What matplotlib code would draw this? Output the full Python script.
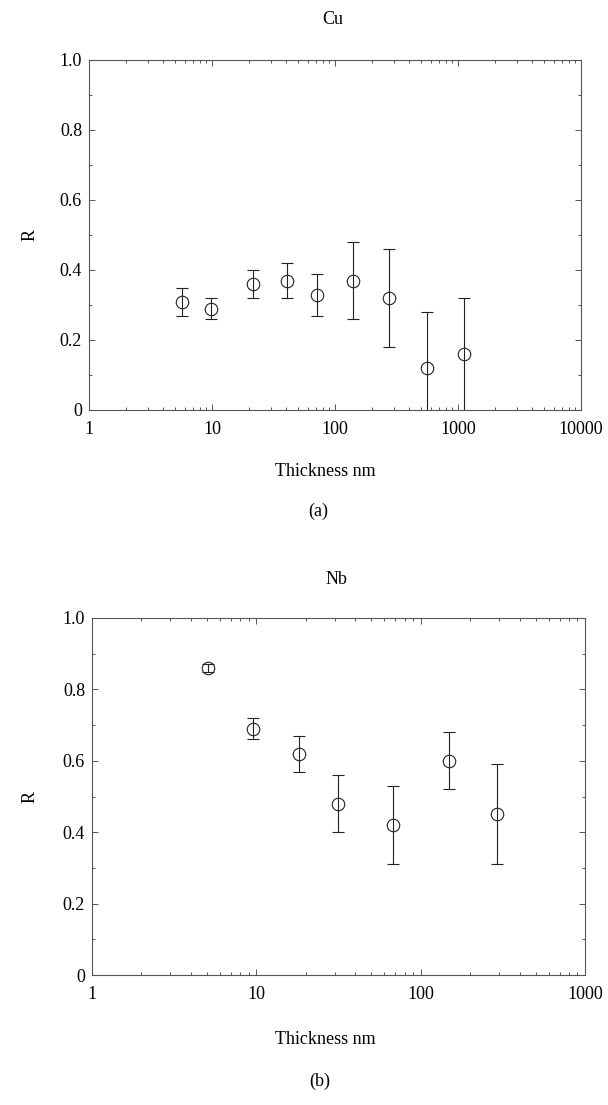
import matplotlib
matplotlib.use("Agg")
import matplotlib.pyplot as plt
import numpy as np
from matplotlib.ticker import FixedLocator, FixedFormatter, LogLocator, NullFormatter, MultipleLocator

plt.rcParams['font.family'] = ['Liberation Serif', 'DejaVu Serif']

# Cu data
cu_thickness = [5.7, 9.9, 21.4, 40.5, 71, 141, 277, 556, 1119]
cu_R = [0.31, 0.29, 0.36, 0.37, 0.33, 0.37, 0.32, 0.12, 0.16]
cu_upper = [0.35, 0.32, 0.40, 0.42, 0.39, 0.48, 0.46, 0.28, 0.32]
cu_lower = [0.27, 0.26, 0.32, 0.32, 0.27, 0.26, 0.18, -0.04, -0.04]

# Nb data
nb_thickness = [5.05, 9.6, 18.3, 31.3, 68, 149, 292]
nb_R = [0.86, 0.69, 0.62, 0.48, 0.42, 0.60, 0.45]
nb_upper = [0.87, 0.72, 0.67, 0.56, 0.53, 0.68, 0.59]
nb_lower = [0.85, 0.66, 0.57, 0.40, 0.31, 0.52, 0.31]

y_ticks = [0, 0.2, 0.4, 0.6, 0.8, 1.0]
y_ticklabels = ['0', '0.2', '0.4', '0.6', '0.8', '1.0']
cu_xticks = [1, 10, 100, 1000, 10000]
cu_xticklabels = ['1', '10', '100', '1000', '10000']
nb_xticks = [1, 10, 100, 1000]
nb_xticklabels = ['1', '10', '100', '1000']

W, H = 608, 1105
fig = plt.figure(figsize=(W / 100, H / 100), dpi=100)

def px_axes(l, t, r, b):
    return [l / W, 1 - b / H, (r - l) / W, (b - t) / H]

ax1 = fig.add_axes(px_axes(89, 60, 581, 410))
ax2 = fig.add_axes(px_axes(92, 618, 585, 975))

spine_color = '#555555'
mark_color = '#222222'
FS = 13

def style(ax, x, y, lo, up, xticks, xlabels, xmax):
    y = np.array(y); lo = np.array(lo); up = np.array(up)
    ax.errorbar(x, y, yerr=[y - lo, up - y], fmt='o', mfc='none', mec=mark_color,
                ms=9, mew=0.8, ecolor=mark_color, elinewidth=0.8, capsize=4.5,
                capthick=0.8, clip_on=True)
    ax.set_xscale('log')
    ax.set_xlim(1, xmax)
    ax.set_ylim(0, 1)
    ax.xaxis.set_major_locator(FixedLocator(xticks))
    ax.xaxis.set_major_formatter(FixedFormatter(xlabels))
    ax.xaxis.set_minor_locator(LogLocator(base=10, subs=np.arange(2, 10), numticks=20))
    ax.xaxis.set_minor_formatter(NullFormatter())
    ax.yaxis.set_major_locator(FixedLocator(y_ticks))
    ax.yaxis.set_major_formatter(FixedFormatter(y_ticklabels))
    ax.yaxis.set_minor_locator(MultipleLocator(0.1))
    ax.tick_params(which='both', direction='in', top=True, right=True,
                   color=spine_color, width=0.7)
    ax.tick_params(which='major', length=4, labelsize=FS)
    ax.tick_params(which='minor', length=2.5)
    ax.tick_params(axis='x', which='major', pad=8)
    ax.tick_params(axis='y', which='major', pad=5)
    for s in ax.spines.values():
        s.set_color(spine_color)
        s.set_linewidth(0.8)

style(ax1, cu_thickness, cu_R, cu_lower, cu_upper, cu_xticks, cu_xticklabels, 10000)
style(ax2, nb_thickness, nb_R, nb_lower, nb_upper, nb_xticks, nb_xticklabels, 1000)

def ftext(x, y, s, **kw):
    fig.text(x / W, 1 - y / H, s, ha='center', va='center', fontsize=FS, **kw)

ftext(333, 20, 'Cu')
ftext(30, 235, 'R', rotation=90)
ftext(325, 472, 'Thickness nm')
ftext(318, 511, '(a)')

ftext(336, 580, 'Nb')
ftext(30, 797, 'R', rotation=90)
ftext(325, 1040, 'Thickness nm')
ftext(320, 1081, '(b)')

fig.savefig('out.png', dpi=100)
